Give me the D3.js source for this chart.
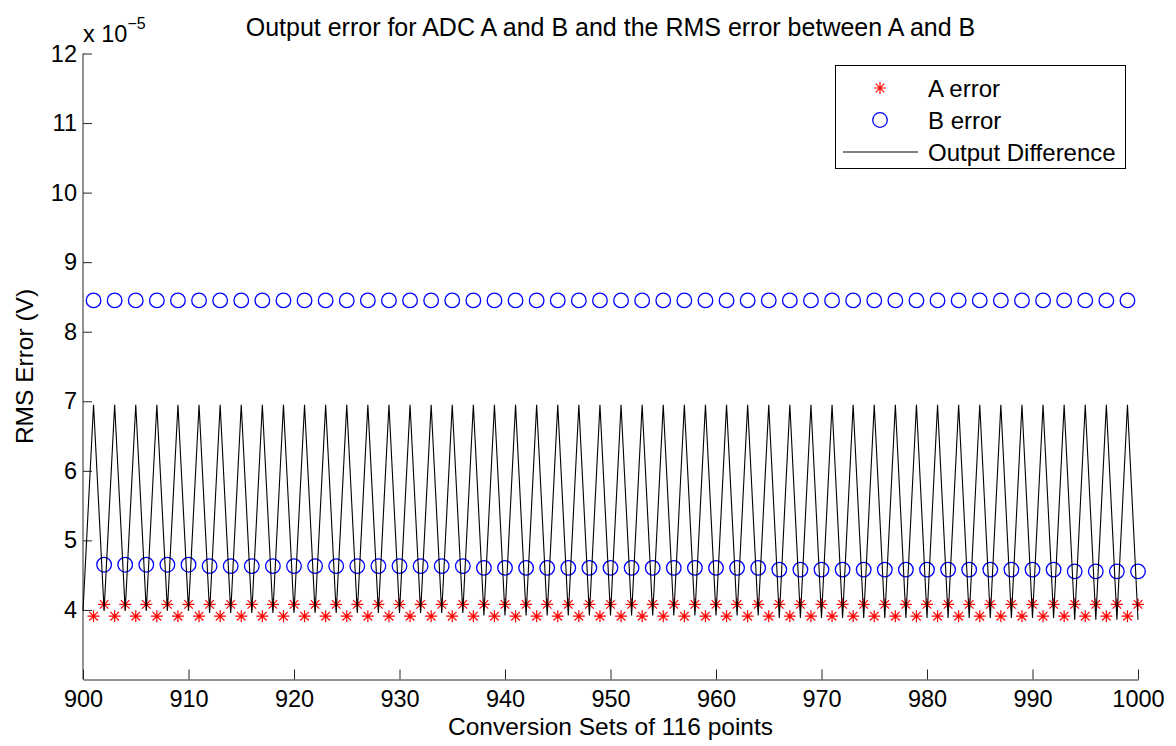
<!DOCTYPE html>
<html lang="en">
<head>
<meta charset="UTF-8">
<title>RMS error chart</title>
<script src="https://cdnjs.cloudflare.com/ajax/libs/d3/7.8.5/d3.min.js"></script>
<style>
    * { margin: 0; padding: 0; }
    body { background: #fff; }
    svg { display: block; font-family: "Liberation Sans", Arial, sans-serif; }
    .axis path, .axis line { stroke: #262626; stroke-width: 1; }
    .axis text { font-size: 23.5px; fill: #000; }
</style>
</head>
<body>
<div id="chart"></div>
<script>
// values are in units of 1e-5 V (see the "x 10^-5" label)
var setsA = d3.range(901, 1001);   // conversion sets for A and B markers
var setsDiff = d3.range(900, 1001); // conversion sets for the difference line

var aError = [
    3.91, 4.08, 3.91, 4.08, 3.91, 4.08, 3.91, 4.08, 3.91, 4.08,
    3.91, 4.08, 3.91, 4.08, 3.91, 4.08, 3.91, 4.08, 3.91, 4.08,
    3.91, 4.08, 3.91, 4.08, 3.91, 4.08, 3.91, 4.08, 3.91, 4.08,
    3.91, 4.08, 3.91, 4.08, 3.91, 4.08, 3.91, 4.08, 3.91, 4.08,
    3.91, 4.08, 3.91, 4.08, 3.91, 4.08, 3.91, 4.08, 3.91, 4.08,
    3.91, 4.08, 3.91, 4.08, 3.91, 4.08, 3.91, 4.08, 3.91, 4.08,
    3.91, 4.08, 3.91, 4.08, 3.91, 4.08, 3.91, 4.08, 3.91, 4.08,
    3.91, 4.08, 3.91, 4.08, 3.91, 4.08, 3.91, 4.08, 3.91, 4.08,
    3.91, 4.08, 3.91, 4.08, 3.91, 4.08, 3.91, 4.08, 3.91, 4.08,
    3.91, 4.08, 3.91, 4.08, 3.91, 4.08, 3.91, 4.08, 3.91, 4.08
];

var bError = [
    8.45, 4.65, 8.45, 4.65, 8.45, 4.65, 8.45, 4.65, 8.45, 4.65,
    8.45, 4.63, 8.45, 4.63, 8.45, 4.63, 8.45, 4.63, 8.45, 4.63,
    8.45, 4.63, 8.45, 4.63, 8.45, 4.63, 8.45, 4.63, 8.45, 4.63,
    8.45, 4.63, 8.45, 4.63, 8.45, 4.63, 8.45, 4.605, 8.45, 4.605,
    8.45, 4.605, 8.45, 4.605, 8.45, 4.605, 8.45, 4.605, 8.45, 4.605,
    8.45, 4.605, 8.45, 4.605, 8.45, 4.605, 8.45, 4.605, 8.45, 4.605,
    8.45, 4.605, 8.45, 4.605, 8.45, 4.58, 8.45, 4.58, 8.45, 4.58,
    8.45, 4.58, 8.45, 4.58, 8.45, 4.58, 8.45, 4.58, 8.45, 4.58,
    8.45, 4.58, 8.45, 4.58, 8.45, 4.58, 8.45, 4.58, 8.45, 4.58,
    8.45, 4.58, 8.45, 4.555, 8.45, 4.555, 8.45, 4.555, 8.45, 4.555
];

var outDiff = [
    3.99,
    6.95, 3.99, 6.95, 3.99, 6.95, 3.99, 6.95, 3.99, 6.95, 3.99,
    6.95, 3.955, 6.95, 3.955, 6.95, 3.955, 6.95, 3.955, 6.95, 3.955,
    6.95, 3.955, 6.95, 3.955, 6.95, 3.955, 6.95, 3.955, 6.95, 3.955,
    6.95, 3.955, 6.95, 3.955, 6.95, 3.955, 6.95, 3.92, 6.95, 3.92,
    6.95, 3.92, 6.95, 3.92, 6.95, 3.92, 6.95, 3.92, 6.95, 3.92,
    6.95, 3.92, 6.95, 3.92, 6.95, 3.92, 6.95, 3.92, 6.95, 3.92,
    6.95, 3.92, 6.95, 3.92, 6.95, 3.885, 6.95, 3.885, 6.95, 3.885,
    6.95, 3.885, 6.95, 3.885, 6.95, 3.885, 6.95, 3.885, 6.95, 3.885,
    6.95, 3.885, 6.95, 3.885, 6.95, 3.885, 6.95, 3.885, 6.95, 3.885,
    6.95, 3.885, 6.95, 3.86, 6.95, 3.86, 6.95, 3.86, 6.95, 3.86
];

var xTicks = [900, 910, 920, 930, 940, 950, 960, 970, 980, 990, 1000];
var yTicks = [4, 5, 6, 7, 8, 9, 10, 11, 12];
var legendNames = ["A error", "B error", "Output Difference"];

var width = 1176, height = 746;
var plotL = 83, plotR = 1138, plotT = 53.5, plotB = 679.5;

var svg = d3.select("#chart").append("svg")
    .attr("width", width)
    .attr("height", height);

var x = d3.scaleLinear().domain([900, 1000]).range([plotL, plotR]);
var y = d3.scaleLinear().domain([3, 12]).range([plotB, plotT]);

// axes, ticks point inwards like matlab
var xAxis = d3.axisBottom(x).tickValues(xTicks).tickSize(-10).tickSizeOuter(0).tickPadding(11).tickFormat(d3.format("d"));
svg.append("g").attr("class", "axis")
    .attr("transform", "translate(0," + plotB + ")")
    .call(xAxis);

var yAxis = d3.axisLeft(y).tickValues(yTicks).tickSize(-9).tickSizeOuter(0).tickPadding(6).tickFormat(d3.format("d"));
var yG = svg.append("g").attr("class", "axis")
    .attr("transform", "translate(" + plotL + ",0)")
    .call(yAxis);
// extend the y axis line down to the x axis
yG.select(".domain").attr("d", "M0," + plotT + "V" + plotB);

// A error: red asterisks
var star = "M-6,0H6M0,-6V6M-4.3,-4.3L4.3,4.3M-4.3,4.3L4.3,-4.3";
svg.append("g").selectAll("path")
    .data(aError)
    .enter().append("path")
    .attr("d", star)
    .attr("transform", function(d, i) { return "translate(" + x(setsA[i]) + "," + y(d) + ")"; })
    .attr("stroke", "#ff0000")
    .attr("stroke-width", 1.2)
    .attr("fill", "none");

// B error: blue circles
svg.append("g").selectAll("circle")
    .data(bError)
    .enter().append("circle")
    .attr("cx", function(d, i) { return x(setsA[i]); })
    .attr("cy", function(d) { return y(d); })
    .attr("r", 7.3)
    .attr("stroke", "#0000ff")
    .attr("stroke-width", 1.3)
    .attr("fill", "none");

// output difference: black line
var line = d3.line()
    .x(function(d, i) { return x(setsDiff[i]); })
    .y(function(d) { return y(d); });
svg.append("path")
    .datum(outDiff)
    .attr("d", line)
    .attr("stroke", "#000")
    .attr("stroke-width", 1.1)
    .attr("fill", "none");

// title and labels
svg.append("text")
    .attr("x", (plotL + plotR) / 2)
    .attr("y", 36)
    .attr("text-anchor", "middle")
    .style("font-size", "25px")
    .text("Output error for ADC A and B and the RMS error between A and B");

svg.append("text")
    .attr("x", (plotL + plotR) / 2)
    .attr("y", 735)
    .attr("text-anchor", "middle")
    .style("font-size", "24.5px")
    .text("Conversion Sets of 116 points");

svg.append("text")
    .attr("transform", "translate(33," + (plotT + plotB) / 2 + ") rotate(-90)")
    .attr("text-anchor", "middle")
    .style("font-size", "24.5px")
    .text("RMS Error (V)");

var expo = svg.append("text")
    .attr("x", 83)
    .attr("y", 42)
    .style("font-size", "23.5px");
expo.append("tspan").text("x 10");
expo.append("tspan").attr("dy", -13).style("font-size", "16px").text("\u22125");

// legend
var lg = svg.append("g");
lg.append("rect")
    .attr("x", 835.5).attr("y", 65.5)
    .attr("width", 290).attr("height", 103)
    .attr("fill", "#fff").attr("stroke", "#000").attr("stroke-width", 1);

var rowY = [88, 120, 152];
lg.append("path")
    .attr("d", star)
    .attr("transform", "translate(880," + rowY[0] + ")")
    .attr("stroke", "#ff0000").attr("stroke-width", 1.2).attr("fill", "none");
lg.append("circle")
    .attr("cx", 880).attr("cy", rowY[1]).attr("r", 7.3)
    .attr("stroke", "#0000ff").attr("stroke-width", 1.3).attr("fill", "none");
lg.append("line")
    .attr("x1", 843).attr("x2", 918)
    .attr("y1", rowY[2]).attr("y2", rowY[2])
    .attr("stroke", "#000").attr("stroke-width", 1.1);

lg.selectAll("text.leg")
    .data(legendNames)
    .enter().append("text")
    .attr("class", "leg")
    .attr("x", 928)
    .attr("y", function(d, i) { return rowY[i]; })
    .attr("dy", "0.36em")
    .style("font-size", "24px")
    .text(function(d) { return d; });
</script>
</body>
</html>
